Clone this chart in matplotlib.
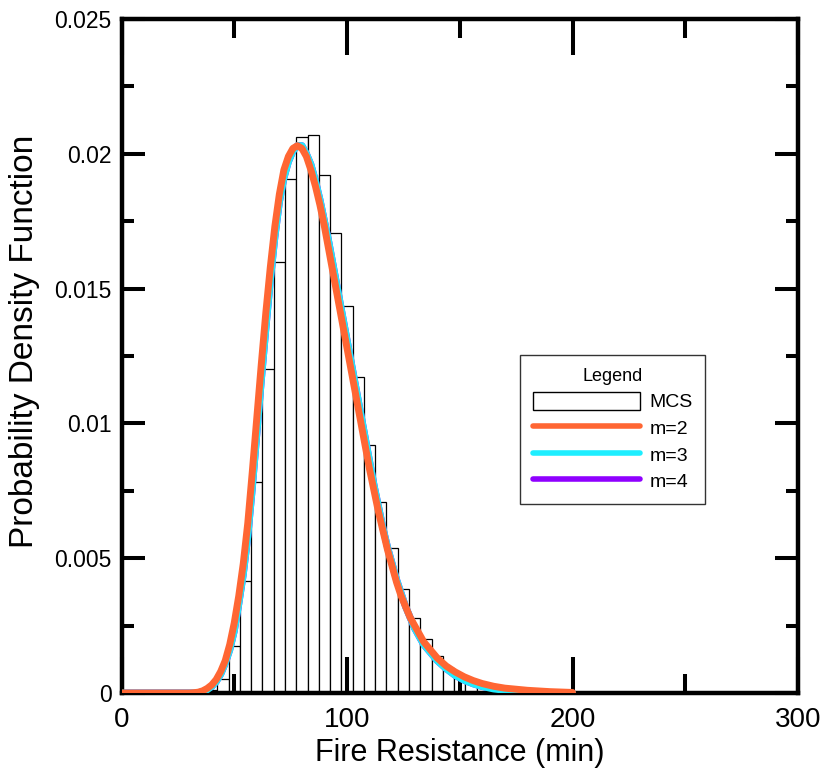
import matplotlib
matplotlib.use("Agg")
import matplotlib.pyplot as plt
from matplotlib import font_manager
from matplotlib.patches import Patch
from matplotlib.lines import Line2D
from matplotlib.ticker import MultipleLocator, FixedLocator

# ---------------- data ----------------
bin_centers = [40, 45, 50, 55, 60, 65, 70, 75, 80, 85, 90, 95, 100, 105, 110,
               115, 120, 125, 130, 135, 140, 145, 150, 155, 160, 165, 170, 175]
mcs_density = [0.0001, 0.00053, 0.00173, 0.00417, 0.00783, 0.0120, 0.0160, 0.01906,
               0.02061, 0.02069, 0.01921, 0.01706, 0.01435, 0.01173, 0.00919, 0.00708,
               0.00536, 0.00386, 0.0028, 0.0020, 0.00137, 0.00094, 0.0006, 0.0004,
               0.00025, 0.00015, 0.0001, 0.00006]

curve_x = [0, 30, 32, 34, 36, 38, 40, 42, 44, 46, 48, 50, 52, 54, 56, 58, 60, 62, 64,
           66, 68, 70, 72, 74, 76, 78, 80, 82, 84, 86, 88, 90, 92, 94, 96, 98, 100,
           102, 104, 106, 108, 110, 112, 114, 116, 118, 120, 122, 124, 126, 128, 130,
           132, 134, 136, 138, 140, 144, 148, 152, 156, 160, 165, 170, 180, 190, 200]
pdf_m2 = [0, 0, 0.00001, 0.00003, 0.00008, 0.00017, 0.0003, 0.0005, 0.0008, 0.0012,
          0.0018, 0.0026, 0.0036, 0.0048, 0.0063, 0.0082, 0.0102, 0.0122, 0.0141,
          0.0158, 0.0173, 0.0185, 0.0194, 0.0199, 0.0202, 0.0203, 0.0202, 0.0199,
          0.0194, 0.0188, 0.0181, 0.0173, 0.0164, 0.0155, 0.0146, 0.0137, 0.0128,
          0.0119, 0.0110, 0.0101, 0.0092, 0.0083, 0.0075, 0.0067, 0.0060, 0.0053,
          0.0047, 0.0041, 0.0036, 0.0032, 0.0028, 0.0025, 0.0022, 0.0019, 0.0017,
          0.0015, 0.0013, 0.0010, 0.00078, 0.0006, 0.00046, 0.00035, 0.00025,
          0.00018, 0.0001, 0.00005, 0.00002]
pdf_m3 = [0, 0, 0, 0.00001, 0.00005, 0.00012, 0.00024, 0.00042, 0.0007, 0.0011,
          0.0016, 0.0023, 0.0033, 0.0044, 0.0058, 0.0076, 0.0096, 0.0116, 0.0135,
          0.0153, 0.0169, 0.0182, 0.0191, 0.0197, 0.0201, 0.0203, 0.0203, 0.0200,
          0.0196, 0.0190, 0.0183, 0.0175, 0.0167, 0.0158, 0.0149, 0.0140, 0.0131,
          0.0122, 0.0113, 0.0104, 0.0095, 0.0086, 0.0077, 0.0069, 0.0061, 0.0054,
          0.0048, 0.0042, 0.0037, 0.0032, 0.0028, 0.0024, 0.0021, 0.0018, 0.0016,
          0.0014, 0.0012, 0.0009, 0.00065, 0.00047, 0.00034, 0.00024, 0.00015,
          0.0001, 0.00004, 0.00001, 0]
pdf_m4 = [0, 0, 0, 0.00001, 0.00005, 0.00012, 0.00024, 0.00042, 0.0007, 0.0011,
          0.0016, 0.0023, 0.0033, 0.0044, 0.0058, 0.0076, 0.0096, 0.0116, 0.0135,
          0.0153, 0.0169, 0.0182, 0.0191, 0.0197, 0.0201, 0.0203, 0.0203, 0.0200,
          0.0196, 0.0190, 0.0183, 0.0175, 0.0167, 0.0158, 0.0149, 0.0140, 0.0131,
          0.0122, 0.0113, 0.0104, 0.0095, 0.0086, 0.0077, 0.0069, 0.0061, 0.0054,
          0.0048, 0.0042, 0.0037, 0.0032, 0.0028, 0.0024, 0.0021, 0.0018, 0.0016,
          0.0014, 0.0012, 0.0009, 0.00065, 0.00047, 0.00034, 0.00024, 0.00015,
          0.0001, 0.00004, 0.00001, 0]

x_ticks = [0, 100, 200, 300]
x_tick_labels = ["0", "100", "200", "300"]
y_ticks = [0, 0.005, 0.01, 0.015, 0.02, 0.025]
y_tick_labels = ["0", "0.005", "0.01", "0.015", "0.02", "0.025"]
legend_labels = ["MCS", "m=2", "m=3", "m=4"]

# ---------------- fonts ----------------
avail = {f.name for f in font_manager.fontManager.ttflist}
base_font = "Liberation Sans" if "Liberation Sans" in avail else "DejaVu Sans"
narrow_font = "Liberation Sans Narrow" if "Liberation Sans Narrow" in avail else base_font
plt.rcParams["font.family"] = [base_font, "DejaVu Sans"]

# ---------------- figure ----------------
W, H = 822, 774
fig = plt.figure(figsize=(W / 100, H / 100), dpi=100)
L, R, B, T = 121.5, 798, 693, 19
ax = fig.add_axes([L / W, 1 - B / H, (R - L) / W, (B - T) / H])

c_m2 = "#FF6633"
c_m3 = "#1EEEFF"
c_m4 = "#8F00FF"

ax.bar(bin_centers, mcs_density, width=5, facecolor="white", edgecolor="black",
       linewidth=0.9, zorder=1)
ax.plot(curve_x, pdf_m4, color=c_m4, lw=5, solid_capstyle="round", zorder=2)
ax.plot(curve_x, pdf_m3, color=c_m3, lw=5, solid_capstyle="round", zorder=3)
ax.plot(curve_x, pdf_m2, color=c_m2, lw=5, solid_capstyle="round", zorder=4)

ax.set_xlim(0, 300)
ax.set_ylim(0, 0.025)
ax.xaxis.set_major_locator(FixedLocator(x_ticks))
ax.set_xticklabels(x_tick_labels)
ax.xaxis.set_minor_locator(MultipleLocator(50))
ax.yaxis.set_major_locator(FixedLocator(y_ticks))
ax.set_yticklabels(y_tick_labels)
ax.yaxis.set_minor_locator(MultipleLocator(0.0025))

for s in ax.spines.values():
    s.set_linewidth(3.2)
ax.tick_params(axis="x", which="both", direction="in", top=True, width=2.9)
ax.tick_params(axis="x", which="major", length=26, pad=10, labelsize=20)
ax.tick_params(axis="x", which="minor", length=14)
ax.tick_params(axis="y", which="both", direction="in", right=True, width=2.9)
ax.tick_params(axis="y", which="major", length=16.5, pad=7, labelsize=16.5)
ax.tick_params(axis="y", which="minor", length=8.6)
for lab in ax.get_xticklabels():
    lab.set_fontfamily([narrow_font, "DejaVu Sans"])

ax.set_xlabel("Fire Resistance (min)", fontsize=22, labelpad=4)
ax.set_ylabel("Probability Density Function", fontsize=24)
ax.yaxis.set_label_coords((40 - L) / (R - L), (B - 341) / (B - T))

handles = [Patch(facecolor="white", edgecolor="black", linewidth=1.0),
           Line2D([], [], color=c_m2, lw=4, solid_capstyle="round"),
           Line2D([], [], color=c_m3, lw=4, solid_capstyle="round"),
           Line2D([], [], color=c_m4, lw=4, solid_capstyle="round")]
leg = ax.legend(handles, legend_labels, title="Legend", fontsize=14, title_fontsize=13,
                loc="upper left", bbox_to_anchor=((520 - L) / (R - L), (B - 355) / (B - T)),
                borderaxespad=0, frameon=True, fancybox=False, handlelength=5.5,
                handleheight=1.05, handletextpad=0.5, labelspacing=0.36,
                borderpad=0.65)
leg.get_frame().set_edgecolor("black")
leg.get_frame().set_linewidth(1.0)

fig.savefig("out.png", dpi=100)
